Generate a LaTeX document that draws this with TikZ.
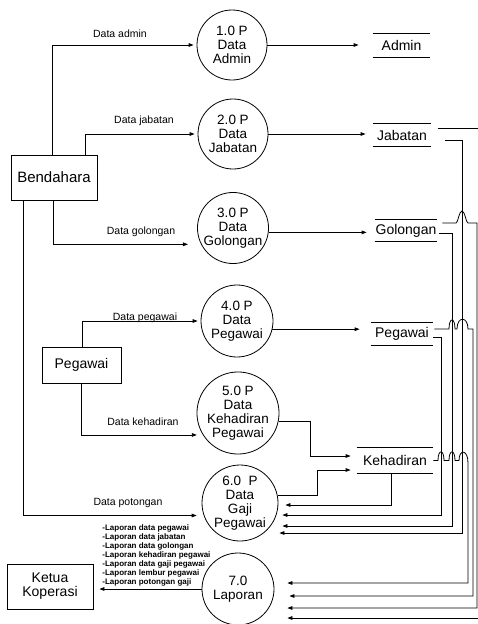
\documentclass[tikz,border=0pt]{standalone}
\usepackage{fontspec}
\setmainfont{Liberation Sans}
\usetikzlibrary{arrows.meta}
\begin{document}
\begin{tikzpicture}[x=1pt,y=-1pt,line width=0.8pt,
  arr/.style={-{Triangle[length=5pt,width=3.6pt]}},
  proc/.style={draw, circle, inner sep=0pt, align=center, font=\fontsize{13.5}{14}\selectfont},
  ent/.style={draw, rectangle, inner sep=0pt, align=center, font=\fontsize{14}{14}\selectfont},
  store/.style={inner sep=0pt, font=\fontsize{14}{14}\selectfont,
    append after command={(\tikzlastnode.north west) edge[-] (\tikzlastnode.north east)
                          (\tikzlastnode.south west) edge[-] (\tikzlastnode.south east)}},
  lab/.style={font=\fontsize{10.5}{12}\selectfont, inner sep=0pt},
]
\useasboundingbox (0,0) rectangle (478,624);

% processes
\node[proc, minimum size=70pt] (c1) at (232,45) {1.0 P\\Data\\Admin};
\node[proc, minimum size=70pt] (c2) at (233,134) {2.0 P\\Data\\Jabatan};
\node[proc, minimum size=70pt] (c3) at (233,228) {3.0 P\\Data\\Golongan};
\node[proc, minimum size=72pt] (c4) at (237,321) {4.0 P\\Data\\Pegawai};
\node[proc, minimum size=80pt] (c5) at (238,413) {5.0 P\\Data\\Kehadiran\\Pegawai};
\node[proc, minimum size=76pt] (c6) at (240,503) {6.0\ \ P\\Data\\Gaji\\Pegawai};
\node[proc, minimum size=72pt] (c7) at (238,589) {7.0\\Laporan};

% entities
\node[ent, minimum width=86pt, minimum height=45pt, font=\fontsize{15}{15}\selectfont] (bend) at (54,177.5) {Bendahara};
\node[ent, minimum width=79pt, minimum height=36pt] (peg) at (81.5,365) {Pegawai};
\node[ent, minimum width=86pt, minimum height=45pt] (ketua) at (50,586.5) {Ketua\\Koperasi};

% data stores
\node[store, minimum width=57pt, minimum height=23pt] (admin) at (401.5,45.5) {Admin};
\node[store, minimum width=58pt, minimum height=22pt] (jab) at (402,135) {Jabatan};
\node[store, minimum width=62pt, minimum height=21pt] (gol) at (406,230.5) {Golongan};
\node[store, minimum width=62pt, minimum height=22pt] (pst) at (402,334) {Pegawai};
\node[store, minimum width=76pt, minimum height=25pt] (keh) at (395,460.5) {Kehadiran};

% labels
\node[lab] (l1) at (120,34) {Data admin};
\node[lab] (l2) at (144,121) {Data jabatan};
\node[lab] (l3) at (141,232) {Data golongan};
\node[lab] (l4) at (145,318) {Data pegawai};
\node[lab] (l5) at (143,422) {Data kehadiran};
\node[lab] (l6) at (128,503) {Data potongan};
\node[font=\fontsize{8}{9}\selectfont\bfseries, align=left, anchor=north west, inner sep=0pt] (rep) at (102,524)
  {-Laporan data pegawai\\-Laporan data jabatan\\-Laporan data golongan\\-Laporan kehadiran pegawai\\-Laporan data gaji pegawai\\-Laporan lembur pegawai\\-Laporan potongan gaji};

% Bendahara flows
\draw[arr, shorten >=3pt] (bend.north -| 52,0) |- (c1.west);
\draw[arr, shorten >=3pt] (bend.north -| 85,0) |- (c2.west);
\draw[arr] (bend.south -| 53,0) |- ([xshift=-13pt]c3.207);
\draw[arr] (bend.south -| 23,0) |- ([xshift=-7pt]c6.199);

% Pegawai flows
\draw[arr, shorten >=3pt] (peg.north -| 82,0) |- (c4.west);
\draw[arr] (peg.south -| 81,0) |- ([xshift=-6pt]c5.212);

% processes to stores
\draw[arr, shorten >=14pt] (c1.east) -- (c1.east -| admin.west);
\draw[arr, shorten >=7pt] (c2.east) -- (c2.east -| jab.west);
\draw[arr, shorten >=8pt] (c3.-7) -- (c3.-7 -| gol.west);
\draw[arr, shorten >=11pt] (c4.-13) -- (c4.-13 -| pst.west);
\draw[arr, shorten >=6pt] (c5.-12) -| (310,456) -- ([yshift=4.5pt]keh.west);
\draw[arr, shorten >=6pt] (c6.12) -| (317,470) -- ([yshift=-9.5pt]keh.west);

% stores to process 6
\draw[arr, shorten >=7pt] (keh.south -| 391,0) |- (c6.east |- 0,505);
\draw[arr, shorten >=4pt] ([yshift=-3pt]pst.east) -- (441,337) |- (c6.east |- 0,515);
\draw[arr, shorten >=4pt] ([xshift=2pt,yshift=-2.5pt]gol.east) -- (452,233) |- (c6.east |- 0,526);
\draw[arr, shorten >=1pt] ([xshift=14pt,yshift=-5pt]jab.east) -- (462,140) |- (c6.east |- 0,533);

% stores to process 7
\draw[arr, shorten >=13pt] (keh.east) -- (438,460.5)
  .. controls (438,449) and (444,449) .. (444,460.5) -- (449,460.5)
  .. controls (449,449) and (455,449) .. (455,460.5) -- (459,460.5)
  .. controls (459,449) and (468,449) .. (468,463) |- (c7.east |- 0,583);
\draw[arr, shorten >=15pt] ([xshift=1pt,yshift=5pt]pst.east) -- (449,329)
  .. controls (449,317) and (455,317) .. (455,329) -- (457,329)
  .. controls (457,316) and (468,316) .. (468,329) -- (473,329) |- (c7.east |- 0,596);
\draw[arr, shorten >=13pt] ([xshift=5pt,yshift=7.5pt]gol.east) -- (456,223)
  .. controls (458,223) and (459,211) .. (462,211)
  .. controls (465,211) and (466,223) .. (468,223) -- (477,223) |- (c7.east |- 0,608);
\draw[arr, shorten >=13pt] ([xshift=7pt,yshift=7pt]jab.east) -- (481,128) |- (c7.east |- 0,618);

% process 7 to Ketua
\draw[arr, shorten >=6pt] (c7.west) -- (c7.west -| ketua.east);
\end{tikzpicture}
\end{document}
